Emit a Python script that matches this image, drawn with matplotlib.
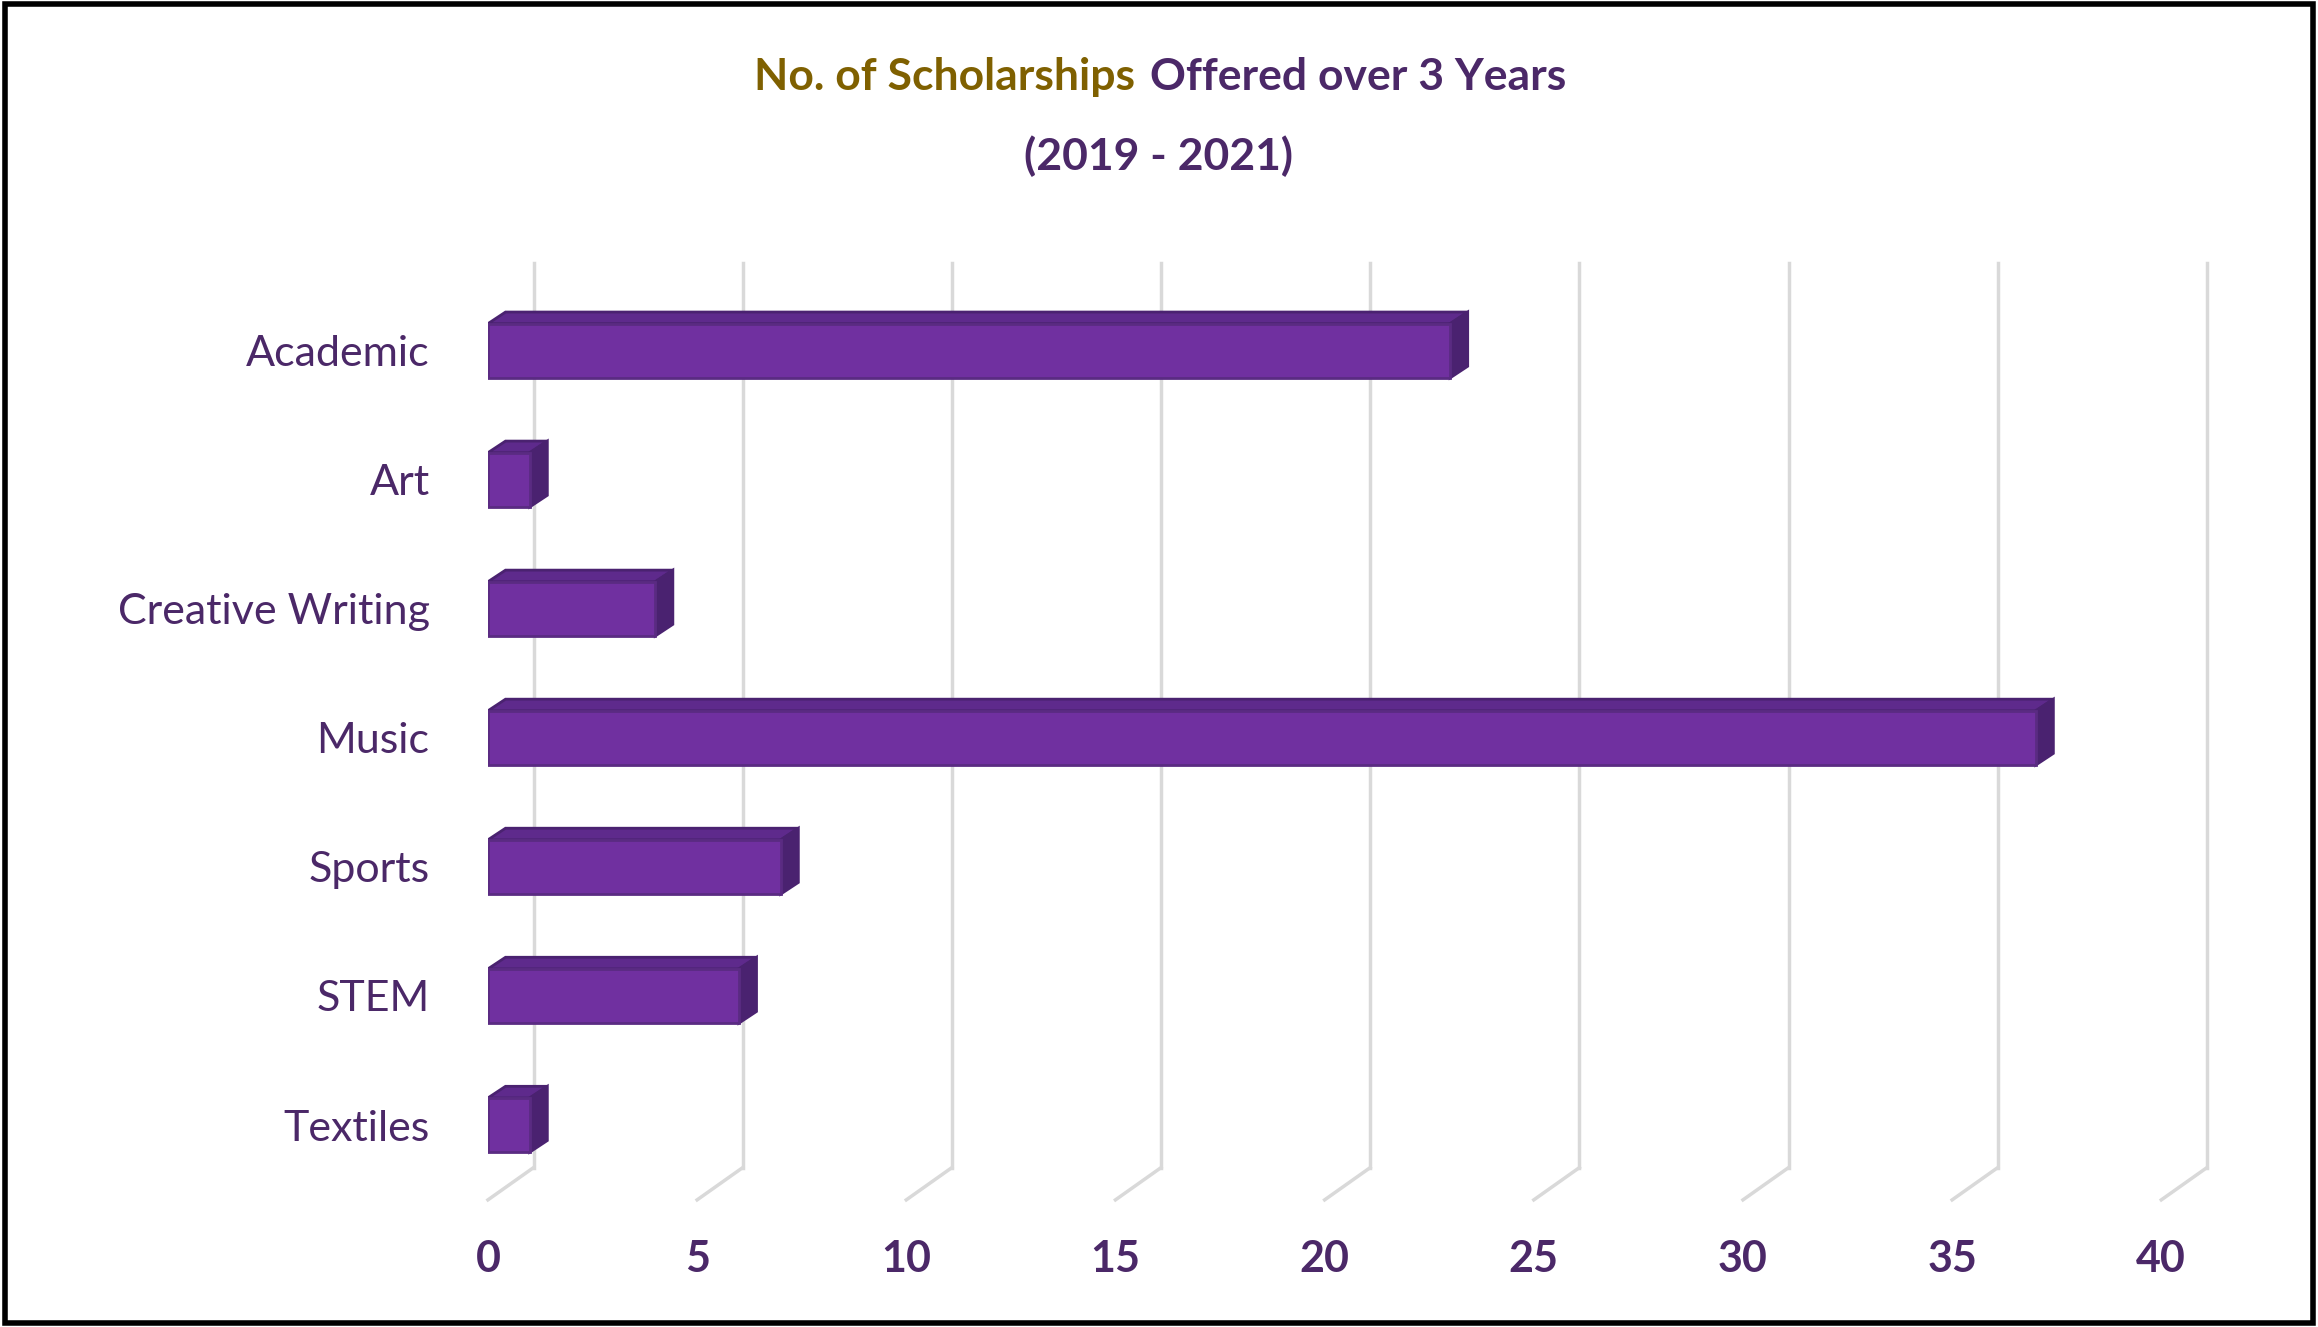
import matplotlib.pyplot as plt
from matplotlib.patches import Polygon, Rectangle

# Data
categories = ['Academic', 'Art', 'Creative Writing', 'Music', 'Sports', 'STEM', 'Textiles']
values = [23, 1, 4, 37, 7, 6, 1]
xticks = [0, 5, 10, 15, 20, 25, 30, 35, 40]

purple_txt = '#4b2868'
gold_txt = '#7f6000'

fig = plt.figure(figsize=(23.18, 13.27), dpi=100)
ax = fig.add_axes([0.2105, 0.0958, 0.7219, 0.706])
ax.set_xlim(0, 40)
ax.set_ylim(6.58, -0.68)
for s in ax.spines.values():
    s.set_visible(False)
ax.set_xticks([])
ax.set_yticks(range(len(categories)))
ax.set_yticklabels(categories, fontsize=31, color=purple_txt, fontname='Lato')
ax.tick_params(axis='y', length=0, pad=42)

# 3D-ish grid: back wall lines + floor diagonals
gx, gy = 1.09, 0.25
for v in xticks:
    ax.plot([v + gx, v + gx], [-0.68, 6.58 - gy], color='#d9d9d9', lw=2.5, clip_on=False, zorder=0)
    ax.plot([v, v + gx], [6.58, 6.58 - gy], color='#d9d9d9', lw=2.5, clip_on=False, zorder=0)
    ax.text(v, 7.04, str(v), ha='center', va='center', fontsize=31, fontweight='bold',
            color=purple_txt, fontname='Lato', clip_on=False)

# bars
h, dx, dy = 0.21, 0.42, 0.09
for i, v in enumerate(values):
    top, bot = i - h, i + h
    ax.add_patch(Polygon([(0, top), (v, top), (v + dx, top - dy), (dx, top - dy)],
                         closed=True, fc='#5e2a8c', ec='#4a2270', lw=2, zorder=2))
    ax.add_patch(Polygon([(v, top), (v + dx, top - dy), (v + dx, bot - dy), (v, bot)],
                         closed=True, fc='#4a2270', ec='#4a2270', lw=2, zorder=2))
    ax.add_patch(Rectangle((0, top), v, 2 * h, fc='#7030a0', ec='#5a2b82', lw=2, zorder=3))

# title
fig.text(0.4898, 0.942, 'No. of Scholarships', ha='right', va='center', fontsize=32,
         fontweight='bold', color=gold_txt, fontname='Lato')
fig.text(0.496, 0.942, 'Offered over 3 Years', ha='left', va='center', fontsize=32,
         fontweight='bold', color=purple_txt, fontname='Lato')
fig.text(0.5, 0.882, '(2019 - 2021)', ha='center', va='center', fontsize=32,
         fontweight='bold', color=purple_txt, fontname='Lato')

# outer border
fig.patches.append(Rectangle((0.002, 0.003), 0.996, 0.994, transform=fig.transFigure,
                             fill=False, ec='black', lw=4))

fig.savefig('out.png', dpi=100)
